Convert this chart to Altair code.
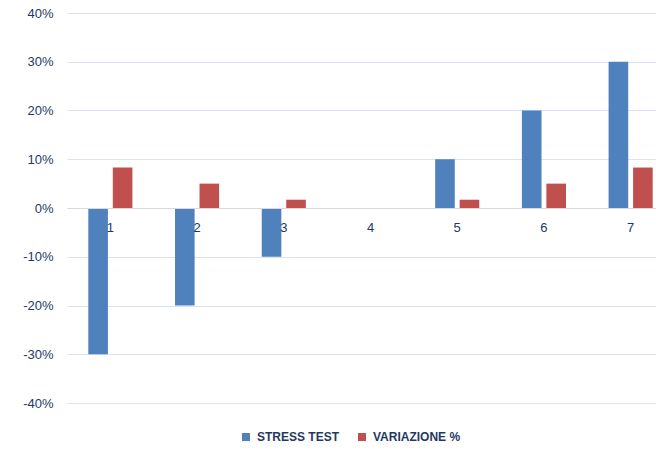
import altair as alt
import pandas as pd

categories = ["1", "2", "3", "4", "5", "6", "7"]
stress_test = [-0.30, -0.20, -0.10, 0.0, 0.10, 0.20, 0.30]
variazione = [0.083, 0.050, 0.017, 0.0, 0.017, 0.050, 0.083]
series_names = ["STRESS TEST", "VARIAZIONE %"]
y_ticks = [-0.4, -0.3, -0.2, -0.1, 0.0, 0.1, 0.2, 0.3, 0.4]

rows = []
for c, s, v in zip(categories, stress_test, variazione):
    rows.append({"cat": c, "serie": series_names[0], "val": s})
    rows.append({"cat": c, "serie": series_names[1], "val": v})
df = pd.DataFrame(rows)

TEXT = "#1f3864"
FONT = "Liberation Sans"

chart = alt.Chart(df).mark_bar().encode(
    x=alt.X("cat:N", sort=categories, title=None,
            scale=alt.Scale(range=[0, 607], paddingInner=0, paddingOuter=0),
            axis=alt.Axis(orient="bottom", offset=-195, labelAngle=0, ticks=False,
                          domainColor="#d9d9d9", domainWidth=1, labelPadding=13,
                          labelFont=FONT, labelFontSize=13, labelColor=TEXT,
                          zindex=1, grid=False)),
    xOffset=alt.XOffset("serie:N", sort=series_names,
                        scale=alt.Scale(domain=series_names, paddingInner=0.2, paddingOuter=0.87)),
    y=alt.Y("val:Q", title=None,
            scale=alt.Scale(domain=[-0.4, 0.4], nice=False, zero=False),
            axis=alt.Axis(values=y_ticks, ticks=False, domain=False,
                          labelExpr="(datum.value < -0.0001 ? '-' : '') + format(abs(datum.value), '.0%')",
                          labelFont=FONT, labelFontSize=13, labelColor=TEXT, labelPadding=14,
                          gridColor="#dae3f1", gridWidth=1)),
    color=alt.Color("serie:N", sort=series_names, title=None,
                    scale=alt.Scale(domain=series_names, range=["#4f81bd", "#c0504d"]),
                    legend=alt.Legend(orient="none", direction="horizontal", legendX=173, legendY=418,
                                      symbolType="square", symbolSize=64, symbolStrokeWidth=0,
                                      labelFont=FONT, labelFontSize=12, labelFontWeight="bold",
                                      labelColor=TEXT, labelOffset=5, columnPadding=16)),
).properties(
    width=589, height=390,
    background="white",
    padding={"left": 67, "top": 13, "right": 0, "bottom": 47},
    autosize=alt.AutoSizeParams(type="none"),
).configure_view(stroke="transparent", strokeWidth=0)

chart.save("out.html", embed_options={"renderer": "svg", "actions": False})
